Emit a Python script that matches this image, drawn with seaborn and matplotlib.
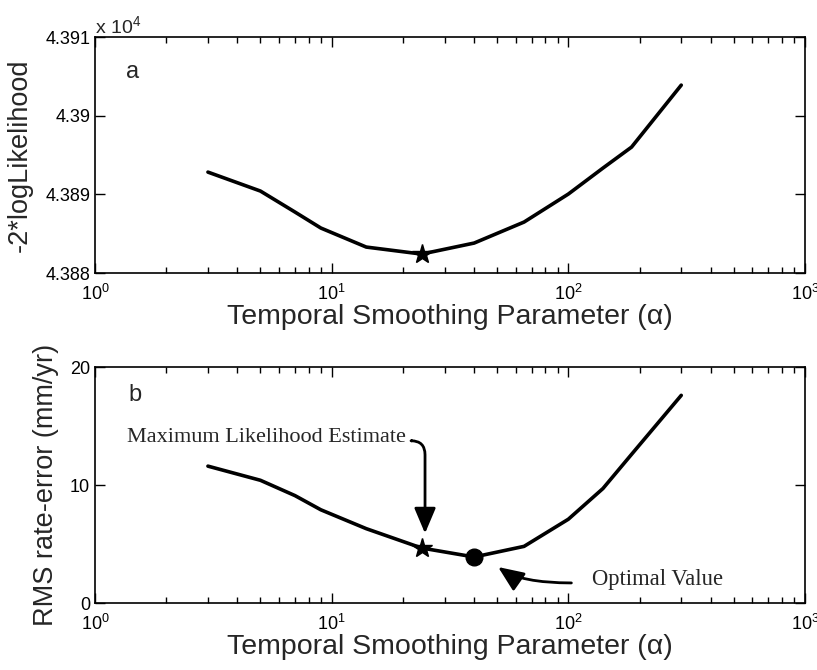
import numpy as np
import pandas as pd
import seaborn as sns
import matplotlib
matplotlib.use("Agg")
import matplotlib.pyplot as plt
from matplotlib.ticker import LogLocator, NullFormatter, FixedLocator

# ---- data ----
alpha = [3, 5, 7, 9, 14, 24, 40, 65, 100, 140, 185, 300]
neg2loglik = [43892.83, 43890.42, 43887.75, 43885.72, 43883.30, 43882.41,
              43883.81, 43886.48, 43890.04, 43893.34, 43896.01, 43903.89]
rms_error = [11.6, 10.4, 9.1, 7.9, 6.3, 4.66, 3.9, 4.8, 7.1, 9.7, 12.6, 17.6]

mle_alpha, mle_loglik, mle_rms = 24, 43882.41, 4.66
opt_alpha, opt_rms = 40, 3.9

top_yticks = [4.388, 4.389, 4.39, 4.391]
top_yticklabels = ["4.388", "4.389", "4.39", "4.391"]
bot_yticks = [0, 10, 20]
xlabel = "Temporal Smoothing Parameter (α)"

df = pd.DataFrame({"alpha": alpha,
                   "loglik": np.array(neg2loglik) / 1e4,
                   "rms": rms_error})

sns.set_style("ticks")
plt.rcParams["font.family"] = ["Liberation Sans", "DejaVu Sans"]
plt.rcParams["mathtext.fontset"] = "custom"
plt.rcParams["mathtext.rm"] = "Liberation Sans"
plt.rcParams["mathtext.it"] = "Liberation Sans"

fig = plt.figure(figsize=(8.17, 6.70), dpi=100)
ax1 = fig.add_axes([0.1163, 0.5925, 0.869, 0.3522])
ax2 = fig.add_axes([0.1163, 0.1000, 0.869, 0.3522])

lw = 2.6
sns.lineplot(data=df, x="alpha", y="loglik", ax=ax1, color="black", lw=lw)
sns.lineplot(data=df, x="alpha", y="rms", ax=ax2, color="black", lw=lw)

ax1.plot([mle_alpha], [mle_loglik / 1e4], marker="*", ms=15, color="black", zorder=5)
ax2.plot([mle_alpha], [mle_rms], marker="*", ms=15, color="black", zorder=5)
ax2.plot([opt_alpha], [opt_rms], marker="o", ms=12, color="black", zorder=5)

for ax in (ax1, ax2):
    ax.set_xscale("log")
    ax.set_xlim(1, 1000)
    ax.xaxis.set_major_locator(FixedLocator([1, 10, 100, 1000]))
    ax.set_xticklabels(["$10^0$", "$10^1$", "$10^2$", "$10^3$"])
    ax.xaxis.set_minor_locator(LogLocator(base=10, subs=np.arange(2, 10), numticks=20))
    ax.xaxis.set_minor_formatter(NullFormatter())
    ax.tick_params(which="both", direction="in", top=True, right=True,
                   labelsize=13, width=1.0, colors="black")
    ax.tick_params(which="major", length=7)
    ax.tick_params(which="minor", length=4)
    ax.tick_params(axis="x", pad=8)
    for s in ax.spines.values():
        s.set_linewidth(1.2)
        s.set_color("black")
    ax.set_xlabel(xlabel, fontsize=20.5, labelpad=0)

ax1.set_ylim(4.388, 4.391)
ax1.set_yticks(top_yticks)
ax1.set_yticklabels(top_yticklabels)
ax1.set_ylabel("-2*logLikelihood", fontsize=19.5, labelpad=9)
ax1.text(0.0, 1.0, "x 10$^4$", transform=ax1.transAxes, fontsize=14,
         ha="left", va="bottom")
ax1.text(0.043, 0.85, "a", transform=ax1.transAxes, fontsize=17, va="center")

ax2.set_ylim(0, 20)
ax2.set_yticks(bot_yticks)
ax2.set_ylabel("RMS rate-error (mm/yr)", fontsize=19.5, labelpad=8)
ax2.text(0.047, 0.88, "b", transform=ax2.transAxes, fontsize=17, va="center")

serif = ["Liberation Serif", "DejaVu Serif"]
head = "-|>,head_length=1.3,head_width=0.55"
ax2.text(1.365, 14.0, "Maximum Likelihood Estimate", fontsize=16,
         family=serif, ha="left", va="center")
ax2.annotate("", xy=(24.8, 5.9), xytext=(21.8, 13.75),
             arrowprops=dict(arrowstyle=head, color="black", lw=2,
                             mutation_scale=12,
                             connectionstyle="angle,angleA=0,angleB=90,rad=14",
                             shrinkA=0, shrinkB=0))
ax2.text(126, 2.0, "Optimal Value", fontsize=16.3, family=serif,
         ha="left", va="center")
ax2.annotate("", xy=(50.5, 3.05), xytext=(103, 1.7),
             arrowprops=dict(arrowstyle=head, color="black", lw=2,
                             mutation_scale=12,
                             connectionstyle="angle3,angleA=0,angleB=-35",
                             shrinkA=0, shrinkB=0))

fig.savefig("out.png", dpi=100)
